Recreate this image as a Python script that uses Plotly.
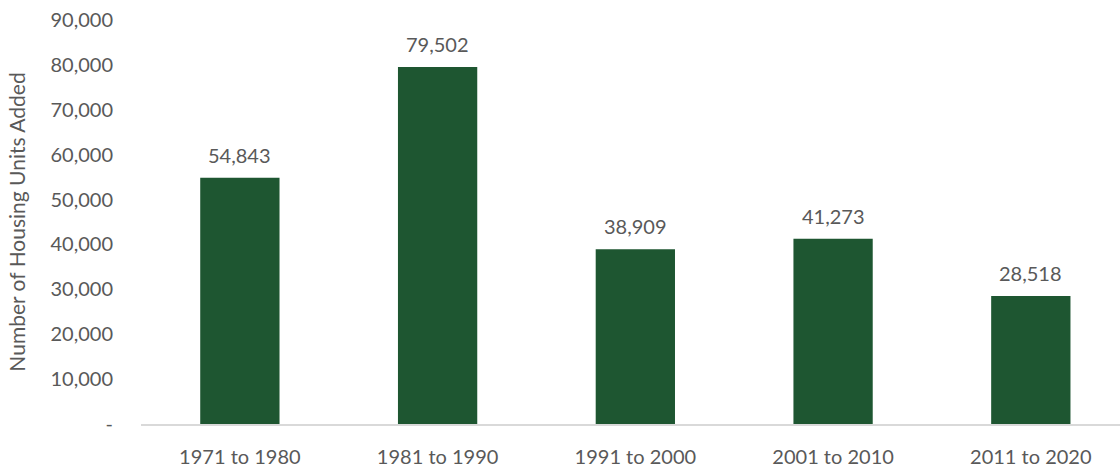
import plotly.graph_objects as go

periods = ["1971 to 1980", "1981 to 1990", "1991 to 2000", "2001 to 2010", "2011 to 2020"]
units_added = [54843, 79502, 38909, 41273, 28518]
y_tick_values = [0, 10000, 20000, 30000, 40000, 50000, 60000, 70000, 80000, 90000]
y_tick_labels = ["-", "10,000", "20,000", "30,000", "40,000", "50,000", "60,000", "70,000", "80,000", "90,000"]

FONT = "Lato"
GRAY = "#595959"

fig = go.Figure(
    go.Bar(
        x=periods,
        y=units_added,
        marker=dict(color="#1E5631", line=dict(width=0)),
        width=0.401,
        hoverinfo="skip",
    )
)

# value labels above each bar
for p, v in zip(periods, units_added):
    fig.add_annotation(
        x=p, y=v, text=f"{v:,}", showarrow=False,
        yanchor="bottom", yshift=9,
        font=dict(family=FONT, size=20, color=GRAY),
    )

fig.update_layout(
    width=1120, height=467,
    margin=dict(l=141, r=0, t=20, b=43),
    paper_bgcolor="white", plot_bgcolor="white",
    showlegend=False,
    font=dict(family=FONT, size=20, color=GRAY),
)
fig.update_xaxes(
    range=[-0.5, 4.451],
    showline=True, linecolor="#D9D9D9", linewidth=1.5,
    showgrid=False, ticks="outside", ticklen=14, tickcolor="rgba(0,0,0,0)",
    tickfont=dict(family=FONT, size=20, color=GRAY),
)
fig.update_yaxes(
    range=[0, 90000], tickvals=y_tick_values, ticktext=y_tick_labels,
    showgrid=False, zeroline=False, showline=False,
    ticks="outside", ticklen=23, tickcolor="rgba(0,0,0,0)",
    tickfont=dict(family=FONT, size=20, color=GRAY),
    title=dict(text="Number of Housing Units Added", standoff=19,
               font=dict(family=FONT, size=21, color=GRAY)),
)

fig.write_html("out.html")
